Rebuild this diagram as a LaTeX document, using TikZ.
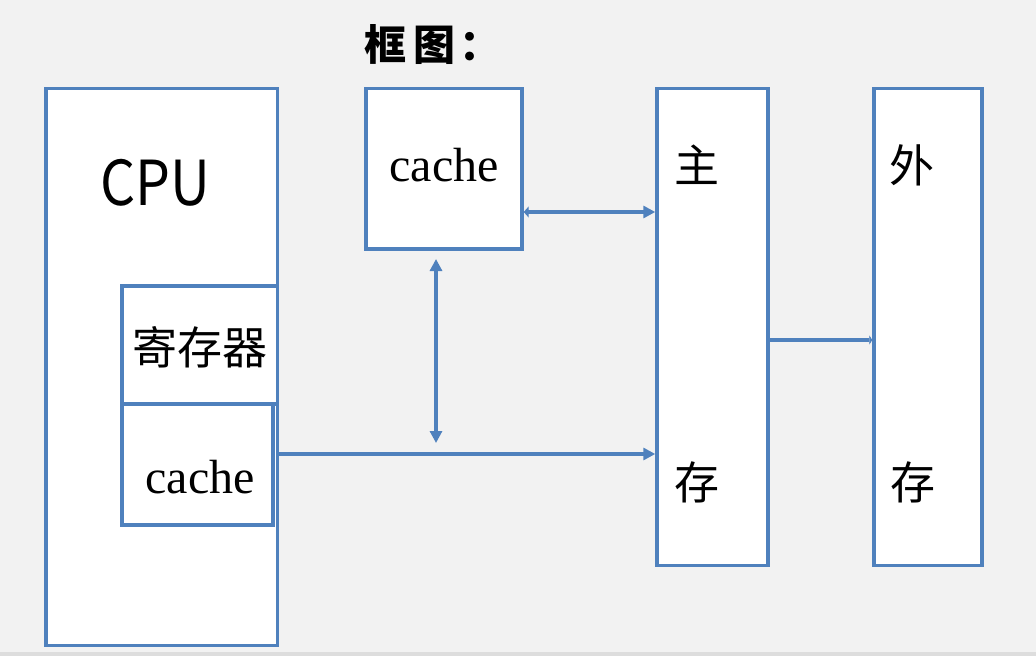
\documentclass[tikz,border=0pt]{standalone}
\usepackage{fontspec}
\usepackage{xcolor}
\usepackage{tikz}
\usetikzlibrary{arrows.meta,
                positioning}
\newfontfamily\cjk{Noto Sans CJK SC}
\newfontfamily\latinserif{Liberation Serif}
\definecolor{boxblue}{HTML}{4F81BD}
\definecolor{paper}{HTML}{F2F2F2}
\definecolor{shadowgray}{HTML}{DDDDDD}

\tikzset{
  box/.style={draw=boxblue, fill=white, line width=3.4pt, inner sep=0pt, outer sep=1.7pt},
  link/.style={draw=boxblue, line width=3.3pt, -{Triangle[length=12pt,width=12pt]}},
  twolink/.style={draw=boxblue, line width=3.3pt, {Triangle[length=12pt,width=12pt]}-{Triangle[length=12pt,width=12pt]}},
  cjklabel/.style={inner sep=0pt, anchor=base, font=\cjk\fontsize{45}{50}\selectfont},
  cachelabel/.style={inner sep=0pt, anchor=base, font=\latinserif\fontsize{48}{52}\selectfont}
}

\begin{document}
\begin{tikzpicture}[x=1pt, y=-1pt]
\fill[paper] (0,0) rectangle (1036,656);
\fill[shadowgray] (0,652) rectangle (1036,656);
\useasboundingbox (0,0) rectangle (1036,656);

% boxes
\node[box, minimum width=231.5pt, minimum height=557pt] (cpu) at (161.75,367) {};
\node[box, minimum width=155.5pt, minimum height=118pt] (reg) at (199.75,345) {};
\node[box, minimum width=151pt, minimum height=121pt] (l1cache) at (197.5,464.5) {};
\node[box, minimum width=156pt, minimum height=160.5pt] (cache) at (444,168.75) {};
\node[box, minimum width=111pt, minimum height=477pt] (mainmem) at (712.5,327) {};
\node[box, minimum width=108pt, minimum height=477pt] (extmem) at (928,327) {};

% texts
\node[inner sep=0pt, anchor=base west, font=\cjk\bfseries\fontsize{42}{46}\selectfont] (title) at (364,60) {框\hspace{7pt}图\hspace{4pt}：};
\node[inner sep=0pt, anchor=base, font=\cjk\fontsize{62}{66}\selectfont] (cpulbl) at (155,205) {\scalebox{0.89}[1]{CPU}};
\node[cjklabel] (reglbl) at (200,364) {寄存器};
\node[cachelabel] (l1lbl) at (200,493) {cache};
\node[cachelabel] (cachelbl) at (444,181) {cache};
\foreach \n/\x/\y/\t in {zhu/697/182/主, cun/697/499/存, wai/912/182/外, cunb/913/499/存}
  \node[cjklabel] (\n) at (\x,\y) {\t};

% connectors
\coordinate (rowA) at (0,212);
\coordinate (rowB) at (0,454);
\coordinate (rowC) at (0,340);
\coordinate (vtop) at (436,259);
\coordinate (vbot) at (436,443);

\draw[draw=boxblue, line width=3.3pt, {Triangle[length=5pt,width=11pt]}-{Triangle[length=12pt,width=12pt]}]
  (cache.east |- rowA) -- (mainmem.west |- rowA);
\draw[twolink] (vtop) -- (vbot);
\draw[link] (cpu.east |- rowB) -- (mainmem.west |- rowB);
\draw[draw=boxblue, line width=3.3pt, -{Triangle[length=3pt,width=9pt]}]
  (mainmem.east |- rowC) -- (extmem.west |- rowC);
\end{tikzpicture}
\end{document}
